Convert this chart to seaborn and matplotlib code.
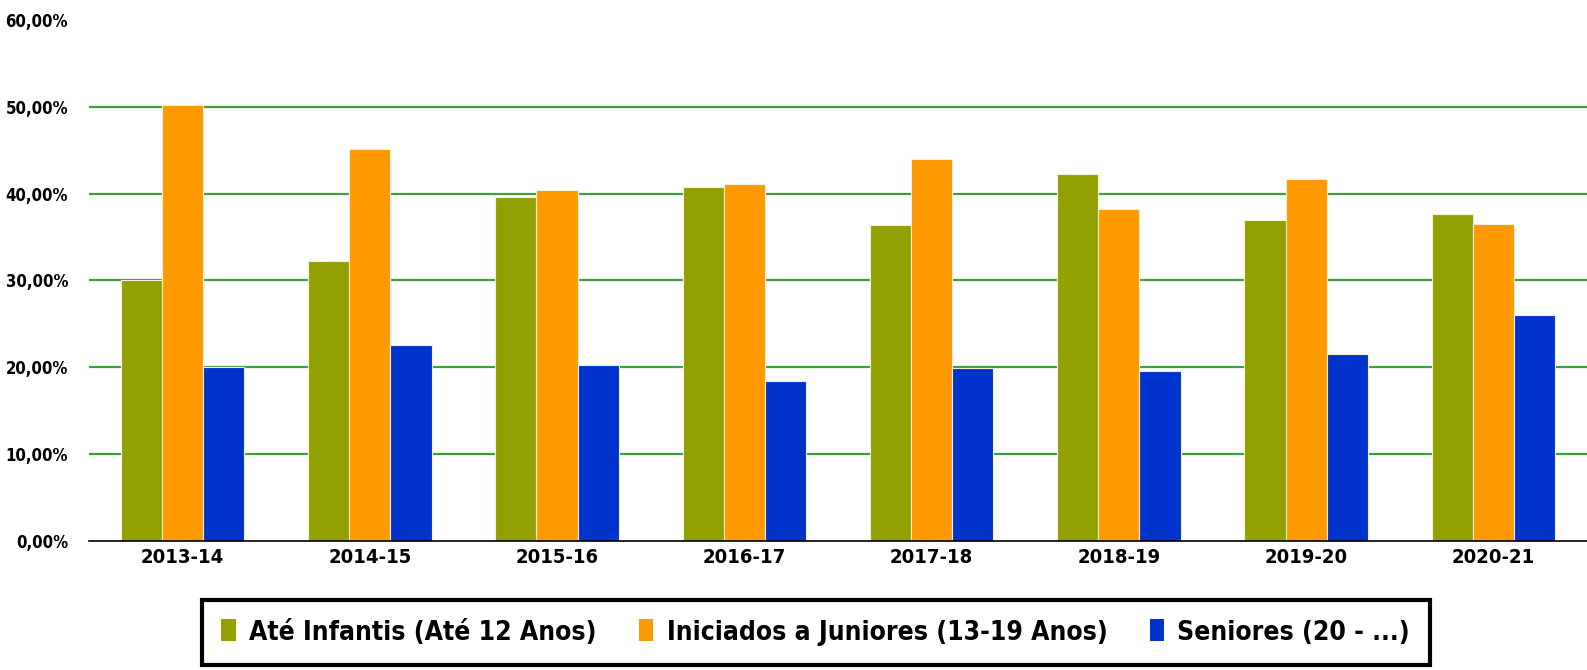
import matplotlib
matplotlib.use("Agg")
import matplotlib.pyplot as plt
import seaborn as sns
import pandas as pd
from matplotlib.patches import Patch
from matplotlib.ticker import FuncFormatter

# Data (percent)
seasons = ["2013-14", "2014-15", "2015-16", "2016-17", "2017-18", "2018-19", "2019-20", "2020-21"]
groups = ["Até Infantis (Até 12 Anos)", "Iniciados a Juniores (13-19 Anos)", "Seniores (20 - ...)"]
ate_infantis = [30.0, 32.2, 39.6, 40.8, 36.4, 42.3, 37.0, 37.6]
iniciados_juniores = [50.2, 45.1, 40.4, 41.1, 44.0, 38.2, 41.7, 36.5]
seniores = [20.0, 22.6, 20.2, 18.4, 19.9, 19.5, 21.5, 26.0]
colors = ["#92A000", "#FF9900", "#0033CC"]

df = pd.DataFrame({
    "season": seasons * 3,
    "group": [groups[0]] * 8 + [groups[1]] * 8 + [groups[2]] * 8,
    "value": ate_infantis + iniciados_juniores + seniores,
})

sns.set_style("white")
plt.rcParams["font.family"] = ["DejaVu Sans"]
plt.rcParams["font.stretch"] = "condensed"
plt.rcParams["font.weight"] = "bold"
plt.rcParams["text.color"] = "black"
plt.rcParams["xtick.color"] = "black"
plt.rcParams["ytick.color"] = "black"

fig = plt.figure(figsize=(15.87, 6.7), dpi=100)
ax = fig.add_axes([0.056, 0.193, 0.944, 0.777])

sns.barplot(data=df, x="season", y="value", hue="group", palette=colors,
            width=0.66, gap=0, saturation=1, edgecolor="#f4f0d8", linewidth=0.8,
            legend=False, ax=ax)

ax.set_ylim(0, 60)
ax.set_xlim(-0.5, len(seasons) - 0.5)
ax.set_yticks(range(0, 61, 10))
ax.yaxis.set_major_formatter(FuncFormatter(lambda v, p: f"{v:.2f}%".replace(".", ",")))
ax.set_xlabel("")
ax.set_ylabel("")

# green horizontal grid, none at 0 and 60
for y in range(10, 51, 10):
    ax.axhline(y, color="#3f9f3f", linewidth=1.6, zorder=0)

for s in ["top", "right", "left"]:
    ax.spines[s].set_visible(False)
ax.spines["bottom"].set_color("black")
ax.spines["bottom"].set_linewidth(1.2)

ax.tick_params(axis="y", length=0, labelsize=12, pad=15)
ax.tick_params(axis="x", length=0, labelsize=14.5, pad=5)
# boundary ticks between categories
ax.set_xticks([i - 0.5 for i in range(len(seasons))], minor=True)
ax.tick_params(axis="x", which="minor", length=9, width=1.2, color="black", direction="out")
for lbl in ax.get_xticklabels() + ax.get_yticklabels():
    lbl.set_fontweight("bold")

handles = [Patch(facecolor=c, edgecolor="none") for c in colors]
leg = fig.legend(handles, groups, loc="center", bbox_to_anchor=(0.514, 0.056),
                 ncol=3, frameon=True, fancybox=False, framealpha=1,
                 handlelength=0.55, handleheight=0.9, handletextpad=0.5,
                 columnspacing=1.6, borderpad=0.75, borderaxespad=0,
                 prop={"weight": "bold", "size": 19})
leg.get_frame().set_edgecolor("black")
leg.get_frame().set_linewidth(3)

fig.savefig("out.png", dpi=100)
